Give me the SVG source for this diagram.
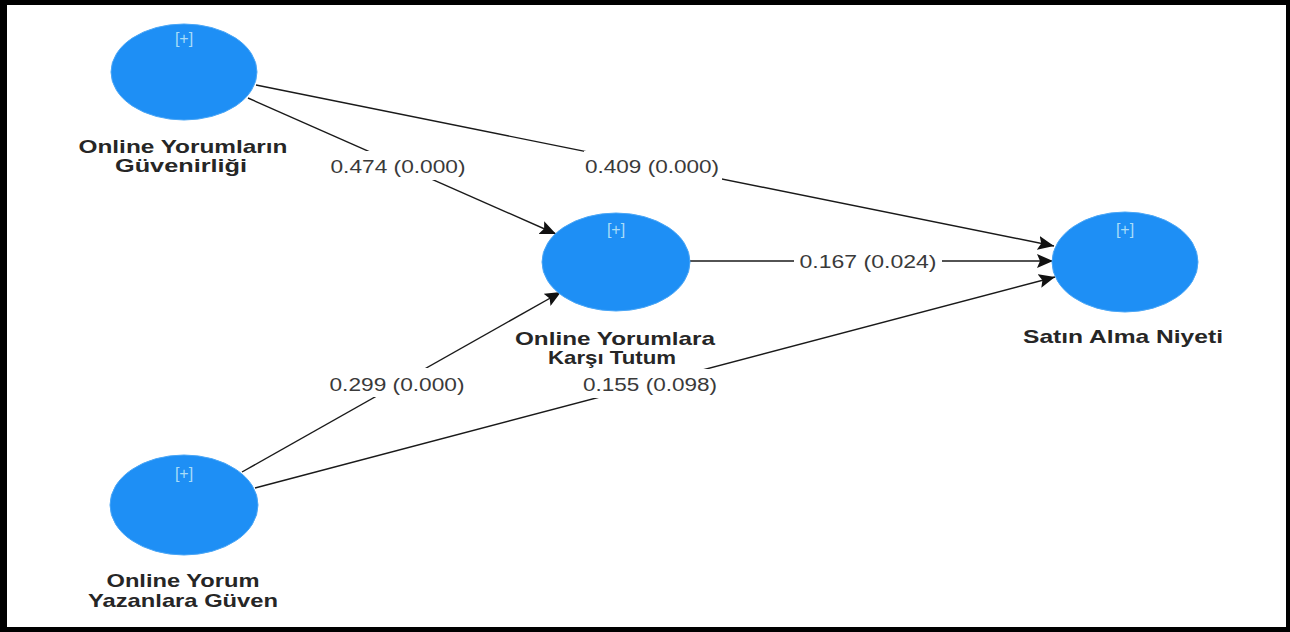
<svg xmlns="http://www.w3.org/2000/svg" width="1290" height="632" viewBox="0 0 1290 632">
<style>
.node{fill:#1e8ff5;stroke:#4aa6f6;stroke-width:1}
.plus{font-family:"Liberation Sans",Arial,sans-serif;font-size:16px;fill:#a8dcf8;text-anchor:middle}
.lbl{font-family:"Liberation Sans",Arial,sans-serif;font-size:18.5px;font-weight:bold;fill:#262626;text-anchor:middle}
.edge{stroke:#1a1a1a;stroke-width:1.4;fill:none;marker-end:url(#arr)}
.elbl{font-family:"Liberation Sans",Arial,sans-serif;font-size:18px;fill:#3a3a3a;text-anchor:middle}
.bg{fill:#ffffff}
</style>
<defs>
<marker id="arr" markerUnits="userSpaceOnUse" markerWidth="18" markerHeight="14" refX="16" refY="7" orient="auto">
<path d="M0,0 L16,7 L0,14 L3,7 Z" fill="#111"/>
</marker>
</defs>
<rect x="0" y="0" width="1290" height="632" fill="#ffffff"/>
<g id="frame" fill="#000">
<rect x="0" y="0" width="1290" height="5"/>
<rect x="0" y="627" width="1290" height="5"/>
<rect x="0" y="0" width="7" height="632"/>
<rect x="1286" y="0" width="4" height="632"/>
</g>
<g id="connectors">
<line class="edge" x1="248" y1="98" x2="556" y2="234"/>
<line class="edge" x1="256" y1="85" x2="1054" y2="246"/>
<line class="edge" x1="690" y1="261" x2="1053" y2="261"/>
<line class="edge" x1="242" y1="472" x2="561" y2="292"/>
<line class="edge" x1="255" y1="488" x2="1055" y2="277"/>
<rect class="bg" x="328" y="151" width="139" height="29"/>
<text class="elbl" x="398" y="173" textLength="135" lengthAdjust="spacingAndGlyphs">0.474 (0.000)</text>
<rect class="bg" x="584" y="151" width="138" height="29"/>
<text class="elbl" x="652" y="173" textLength="134" lengthAdjust="spacingAndGlyphs">0.409 (0.000)</text>
<rect class="bg" x="794" y="246" width="148" height="29"/>
<text class="elbl" x="868" y="268" textLength="137" lengthAdjust="spacingAndGlyphs">0.167 (0.024)</text>
<rect class="bg" x="328" y="368" width="139" height="29"/>
<text class="elbl" x="397" y="391" textLength="135" lengthAdjust="spacingAndGlyphs">0.299 (0.000)</text>
<rect class="bg" x="581" y="369" width="139" height="29"/>
<text class="elbl" x="650" y="391" textLength="134" lengthAdjust="spacingAndGlyphs">0.155 (0.098)</text>
</g>
<g id="node-guvenirlik">
<ellipse class="node" cx="184" cy="72" rx="73" ry="48"/>
<text class="plus" x="184" y="44">[+]</text>
<text class="lbl" x="183" y="153" textLength="209" lengthAdjust="spacingAndGlyphs">Online Yorumların</text>
<text class="lbl" x="181" y="172" textLength="132" lengthAdjust="spacingAndGlyphs">Güvenirliği</text>
</g>
<g id="node-tutum">
<ellipse class="node" cx="616" cy="262" rx="74" ry="49"/>
<text class="plus" x="616" y="235">[+]</text>
<text class="lbl" x="615" y="345" textLength="200" lengthAdjust="spacingAndGlyphs">Online Yorumlara</text>
<text class="lbl" x="612" y="364" textLength="128" lengthAdjust="spacingAndGlyphs">Karşı Tutum</text>
</g>
<g id="node-satin">
<ellipse class="node" cx="1125" cy="262" rx="73" ry="50"/>
<text class="plus" x="1125" y="235">[+]</text>
<text class="lbl" x="1123" y="343" textLength="200" lengthAdjust="spacingAndGlyphs">Satın Alma Niyeti</text>
</g>
<g id="node-yazanlar">
<ellipse class="node" cx="184" cy="505" rx="74" ry="50"/>
<text class="plus" x="184" y="479">[+]</text>
<text class="lbl" x="183" y="587" textLength="153" lengthAdjust="spacingAndGlyphs">Online Yorum</text>
<text class="lbl" x="183" y="607" textLength="190" lengthAdjust="spacingAndGlyphs">Yazanlara Güven</text>
</g>
</svg>
